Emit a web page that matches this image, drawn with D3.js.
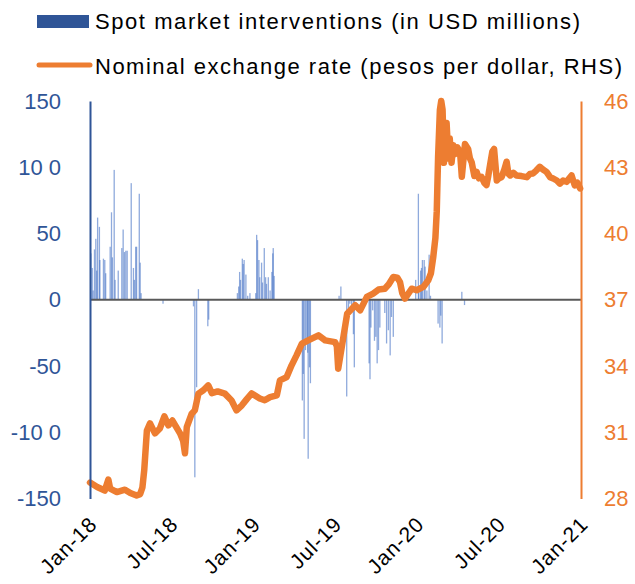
<!DOCTYPE html>
<html><head><meta charset="utf-8">
<script src="https://cdn.jsdelivr.net/npm/d3@7"></script>
<style>body{margin:0;background:#fff}svg{display:block}</style>
</head><body>
<svg id="chart" width="635" height="584"></svg>
<script>
const legendLabels = ["Spot market interventions (in USD millions)", "Nominal exchange rate (pesos per dollar, RHS)"];
const leftTicks = [150, 100, 50, 0, -50, -100, -150];
const leftTickLabels = ["150", "10 0", "50", "0", "-50", "-10 0", "-150"];
const rightTicks = [46, 43, 40, 37, 34, 31, 28];
const xTickDates = ["2018-01-01", "2018-07-01", "2019-01-01", "2019-07-01", "2020-01-01", "2020-07-01", "2021-01-01"];
const xTickLabels = ["Jan-18", "Jul-18", "Jan-19", "Jul-19", "Jan-20", "Jul-20", "Jan-21"];

const rateDates = [
"2018-01-01","2018-01-17","2018-02-03","2018-02-11","2018-02-15","2018-03-02","2018-03-20","2018-04-01","2018-04-15","2018-04-23",
"2018-04-28","2018-05-02","2018-05-08","2018-05-15","2018-05-26","2018-06-06","2018-06-16","2018-06-25","2018-07-04","2018-07-21",
"2018-07-28","2018-08-01","2018-08-05","2018-08-16","2018-08-23","2018-08-31","2018-09-11","2018-09-22","2018-09-30","2018-10-13",
"2018-10-29","2018-11-13","2018-11-24","2018-12-06","2018-12-17","2018-12-28",
"2019-01-15","2019-01-26","2019-02-07","2019-02-22","2019-03-01","2019-03-16","2019-03-27","2019-04-07","2019-04-19","2019-05-03",
"2019-05-26","2019-06-10","2019-07-02","2019-07-06","2019-07-09","2019-07-17","2019-07-29","2019-08-16","2019-08-27","2019-09-11",
"2019-09-25","2019-10-07","2019-10-21","2019-10-30","2019-11-09","2019-11-18","2019-11-24","2019-11-29","2019-12-05","2019-12-20","2019-12-31",
"2020-01-15","2020-01-26","2020-02-01","2020-02-06","2020-02-11","2020-02-14","2020-02-17","2020-02-21","2020-02-24","2020-02-27",
"2020-03-01","2020-03-04","2020-03-07","2020-03-11","2020-03-14","2020-03-18","2020-03-22","2020-03-26","2020-03-31","2020-04-06",
"2020-04-10","2020-04-17","2020-04-24","2020-04-28","2020-05-02","2020-05-08","2020-05-13","2020-05-18","2020-05-24","2020-05-30",
"2020-06-04","2020-06-08","2020-06-12","2020-06-17","2020-06-21","2020-06-27","2020-07-02","2020-07-08","2020-07-14","2020-07-19",
"2020-07-23","2020-07-27","2020-08-03","2020-08-10","2020-08-21","2020-09-02","2020-09-09","2020-09-16","2020-09-23","2020-10-01",
"2020-10-08","2020-10-16","2020-10-24","2020-10-31","2020-11-08","2020-11-15","2020-11-22","2020-11-30","2020-12-06","2020-12-11",
"2020-12-18","2020-12-24","2020-12-30"];
const rateValues = [
28.72,28.52,28.36,28.86,28.45,28.29,28.40,28.25,28.14,28.20,
28.50,29.27,31.08,31.40,30.95,31.17,31.72,31.31,31.53,30.95,
30.60,30.05,31.23,31.84,31.99,32.75,32.90,33.12,32.77,32.85,
32.75,32.44,31.99,32.22,32.50,32.76,
32.53,32.45,32.59,32.67,33.35,33.50,34.03,34.48,35.01,35.16,
35.39,35.16,35.08,34.90,33.88,34.86,36.37,36.75,36.52,37.13,
37.28,37.46,37.50,37.70,38.03,38.00,37.80,37.30,37.05,37.50,37.43,
37.58,37.88,38.20,38.90,39.80,41.00,43.47,45.59,46.00,45.60,
43.20,44.20,45.00,43.40,44.30,43.20,44.00,43.60,43.90,43.70,
42.57,44.05,43.83,43.40,43.22,42.60,42.79,42.50,42.56,42.30,
42.19,42.60,43.10,43.70,43.83,42.40,42.50,42.56,42.90,43.25,
42.70,42.63,42.75,42.63,42.60,42.55,42.70,42.72,42.85,43.02,
42.90,42.79,42.55,42.49,42.40,42.26,42.40,42.34,42.50,42.63,
42.18,42.30,42.04];

const interventionDates = [
"2018-01-03","2018-01-06","2018-01-08","2018-01-11","2018-01-14","2018-01-16","2018-01-18","2018-01-22","2018-01-23","2018-01-31",
"2018-02-03","2018-02-05","2018-02-15","2018-02-18","2018-02-20","2018-02-24","2018-02-26","2018-03-05","2018-03-13","2018-03-16",
"2018-03-19","2018-03-22","2018-03-25","2018-04-03","2018-04-08","2018-04-10","2018-04-13","2018-04-15","2018-04-21","2018-04-23",
"2018-04-25","2018-06-13","2018-08-20","2018-08-23","2018-08-27","2018-08-31","2018-09-21","2018-09-23",
"2018-11-26","2018-11-29","2018-12-01","2018-12-03","2018-12-07","2018-12-09","2018-12-11","2018-12-15","2018-12-19","2018-12-24",
"2019-01-06","2019-01-08","2019-01-10","2019-01-13","2019-01-15","2019-01-19","2019-01-21","2019-01-25","2019-01-28","2019-01-30",
"2019-02-03","2019-02-07","2019-02-11","2019-02-13","2019-02-14","2019-02-16",
"2019-04-20","2019-04-22","2019-04-24","2019-04-27","2019-04-30","2019-05-02","2019-05-03","2019-05-06","2019-05-08",
"2019-07-11","2019-07-15","2019-07-28","2019-08-01","2019-08-04","2019-08-08","2019-08-12","2019-08-14",
"2019-09-16","2019-09-18","2019-09-20","2019-09-24","2019-09-28","2019-10-01","2019-10-04","2019-10-07","2019-10-10",
"2019-10-21","2019-10-25","2019-10-29","2019-11-02","2019-11-05","2019-11-09",
"2019-12-29","2020-01-04","2020-01-05","2020-01-09","2020-01-11","2020-01-13","2020-01-17","2020-01-19","2020-01-23","2020-01-28","2020-01-31",
"2020-02-17","2020-02-21","2020-02-23","2020-02-26","2020-04-10","2020-04-16"];
const interventionValues = [
35,24,7,38,46,22,62,55,30,31,
30,20,40,66,32,98,15,22,39,53,
36,37,37,88,24,15,40,40,80,28,
5,-3,-5,-134,-66,8,-20,-15,
5,10,21,15,31,27,30,19,3,5,
5,49,45,30,17,28,13,39,17,12,
17,7,21,35,39,18,
-76,-56,-105,-38,-31,-40,-120,-51,-63,
3,10,-73,-8,-3,-5,-26,-51,
-48,-60,-21,-8,-31,-28,-48,-38,-21,
-10,-33,-23,-42,-13,-28,
15,80,7,22,24,30,30,25,7,34,3,
-18,-21,-12,-33,6,-4];

const parse = d3.utcParse("%Y-%m-%d");
const svg = d3.select("#chart");
const BLUE = "#2F5597", BAR = "#4472C4", ORANGE = "#ED7D31";

const x = d3.scaleUtc().domain([parse("2018-01-01"), parse("2021-01-01")]).range([90, 581]);
const yL = d3.scaleLinear().domain([-150, 150]).range([498.5, 101]);
const yR = d3.scaleLinear().domain([28, 46]).range([498.5, 101]);

const bars = interventionDates.map((d, i) => ({date: parse(d), v: interventionValues[i]}));
svg.append("g").selectAll("rect").data(bars).join("rect")
  .attr("x", d => x(d.date) - 0.65)
  .attr("width", 1.3)
  .attr("y", d => Math.min(yL(d.v), yL(0)))
  .attr("height", d => Math.abs(yL(d.v) - yL(0)))
  .attr("fill", BAR).attr("fill-opacity", 0.6);

svg.append("line").attr("x1", 90).attr("x2", 581).attr("y1", yL(0)).attr("y2", yL(0))
  .attr("stroke", "#595959").attr("stroke-width", 2);

const rate = rateDates.map((d, i) => ({date: parse(d), v: rateValues[i]}));
svg.append("path").datum(rate)
  .attr("d", d3.line().x(d => x(d.date)).y(d => yR(d.v)))
  .attr("fill", "none").attr("stroke", ORANGE).attr("stroke-width", 6.5)
  .attr("stroke-linejoin", "round").attr("stroke-linecap", "round");

// Left axis
const gL = svg.append("g").attr("transform", "translate(90,0)")
  .call(d3.axisLeft(yL).tickValues(leftTicks).tickSize(0).tickSizeOuter(0).tickPadding(29)
    .tickFormat((d, i) => leftTickLabels[i]));
gL.select(".domain").attr("stroke", BLUE).attr("stroke-width", 2);
gL.selectAll("text").attr("fill", BLUE).style("font-family", "Liberation Sans, Arial, sans-serif").style("font-size", "22px");

// Right axis
const gR = svg.append("g").attr("transform", "translate(581,0)")
  .call(d3.axisRight(yR).tickValues(rightTicks).tickSize(0).tickSizeOuter(0).tickPadding(23));
gR.select(".domain").attr("stroke", ORANGE).attr("stroke-width", 2);
gR.selectAll("text").attr("fill", ORANGE).style("font-family", "Liberation Sans, Arial, sans-serif").style("font-size", "22px");

// Bottom axis labels
const gX = svg.append("g").attr("transform", "translate(0,498.5)")
  .call(d3.axisBottom(x).tickValues(xTickDates.map(parse)).tickSize(0).tickFormat((d, i) => xTickLabels[i]));
gX.select(".domain").remove();
gX.selectAll("text").attr("y", 0).attr("dy", 0)
  .attr("text-anchor", "end").attr("fill", "#000")
  .attr("transform", "translate(8,27) rotate(-45)")
  .style("font-family", "Liberation Sans, Arial, sans-serif").style("font-size", "21px")
  .style("letter-spacing", "1px");

// Legend
const lg = svg.append("g").style("font-family", "Liberation Sans, Arial, sans-serif").style("font-size", "22px");
lg.append("rect").attr("x", 37).attr("y", 15).attr("width", 52).attr("height", 13).attr("fill", BLUE);
lg.append("text").attr("x", 95).attr("y", 29).attr("fill", "#000")
  .attr("textLength", 485).attr("lengthAdjust", "spacing").text(legendLabels[0]);
lg.append("line").attr("x1", 39).attr("x2", 90).attr("y1", 65).attr("y2", 65)
  .attr("stroke", ORANGE).attr("stroke-width", 5).attr("stroke-linecap", "round");
lg.append("text").attr("x", 95).attr("y", 74).attr("fill", "#000")
  .attr("textLength", 527).attr("lengthAdjust", "spacing").text(legendLabels[1]);
</script>
</body></html>
